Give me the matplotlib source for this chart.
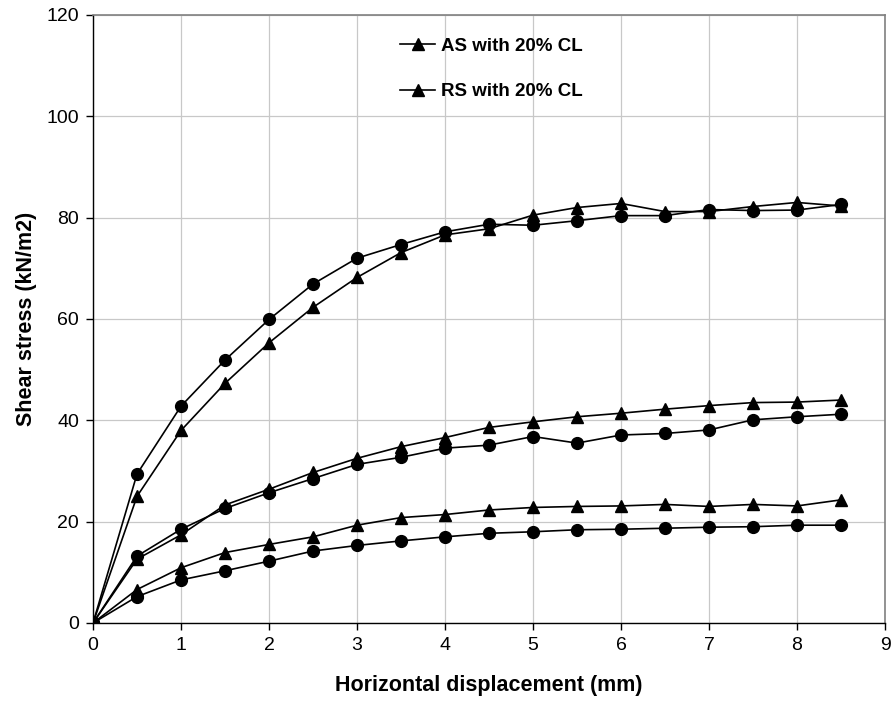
import matplotlib.pyplot as plt
from matplotlib.lines import Line2D

plt.rcParams['font.family'] = ['Liberation Sans', 'DejaVu Sans']

# === Data
disp = [0, 0.5, 1, 1.5, 2, 2.5, 3, 3.5, 4, 4.5, 5, 5.5, 6, 6.5, 7, 7.5, 8, 8.5]

# AS with 20% CL (triangles), three normal stresses
as_high = [0, 25.0, 38.0, 47.3, 55.3, 62.3, 68.2, 73.1, 76.6, 77.8, 80.5, 82.0, 82.8, 81.2, 81.2, 82.2, 83.0, 82.3]
as_mid = [0, 12.6, 17.4, 23.3, 26.4, 29.7, 32.5, 34.8, 36.6, 38.6, 39.7, 40.7, 41.4, 42.2, 42.9, 43.5, 43.6, 44.0]
as_low = [0, 6.6, 10.9, 13.9, 15.5, 17.0, 19.3, 20.8, 21.4, 22.3, 22.8, 23.0, 23.1, 23.4, 23.0, 23.4, 23.1, 24.3]

# RS with 20% CL (circles)
rs_high = [0, 29.4, 42.8, 51.9, 59.9, 66.9, 72.0, 74.7, 77.2, 78.7, 78.5, 79.4, 80.4, 80.4, 81.6, 81.4, 81.5, 82.6]
rs_mid = [0, 13.2, 18.5, 22.6, 25.7, 28.5, 31.3, 32.7, 34.5, 35.1, 36.8, 35.5, 37.1, 37.4, 38.1, 40.1, 40.7, 41.2]
rs_low = [0, 5.2, 8.5, 10.3, 12.2, 14.2, 15.3, 16.2, 17.0, 17.7, 18.0, 18.4, 18.5, 18.7, 18.9, 19.0, 19.3, 19.3]

legend_labels = ["AS with 20% CL", "RS with 20% CL"]

# === Figure
fig = plt.figure(figsize=(8.91, 7.04), dpi=100)
ax = fig.add_axes([0.1044, 0.1151, 0.8889, 0.8636])

line_kw = dict(color="black", linewidth=1.2, markeredgecolor="black", markerfacecolor="black")
for ys in (as_high, as_mid, as_low):
    ax.plot(disp, ys, marker="^", markersize=8.5, **line_kw)
for ys in (rs_high, rs_mid, rs_low):
    ax.plot(disp, ys, marker="o", markersize=8.5, **line_kw)

ax.set_xlim(0, 9)
ax.set_ylim(0, 120)
ax.set_xticks(range(0, 10))
ax.set_yticks(range(0, 121, 20))
ax.grid(True, color="#c8c8c8", linewidth=0.9)
ax.set_axisbelow(True)

for side in ("top", "right"):
    ax.spines[side].set_color("#808080")
    ax.spines[side].set_linewidth(1.2)
for side in ("left", "bottom"):
    ax.spines[side].set_color("black")
    ax.spines[side].set_linewidth(1.0)

ax.tick_params(axis="both", direction="out", length=5, width=1, labelsize=14, pad=5)
ax.set_xlabel("Horizontal displacement (mm)", fontsize=15.5, fontweight="bold", labelpad=15)
ax.set_ylabel("Shear stress (kN/m2)", fontsize=15.5, fontweight="bold", labelpad=7)

# both legend entries use a triangle marker, as in the original
handles = [Line2D([], [], marker="^", markersize=8.5, **line_kw) for _ in legend_labels]
ax.legend(handles, legend_labels, loc="upper left", bbox_to_anchor=(0.388, 0.963),
          frameon=False, prop={"weight": "bold", "size": 13.5},
          borderpad=0, borderaxespad=0,
          handlelength=1.87, handletextpad=0.3, labelspacing=1.52)

fig.savefig("out.png", dpi=100)
